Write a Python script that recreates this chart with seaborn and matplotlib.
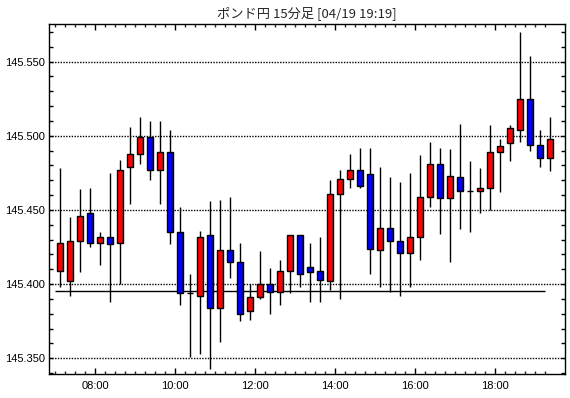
import numpy as np
import pandas as pd
import seaborn as sns
import matplotlib
matplotlib.use("Agg")
import matplotlib.pyplot as plt
from matplotlib.ticker import FixedLocator, FuncFormatter


TITLE = "ポンド円 15分足 [04/19 19:19]"

# 15-minute bars, 07:00 .. 19:15
times = pd.date_range("2024-04-19 07:00", periods=50, freq="15min")

opens = [
    145.409, 145.402, 145.429, 145.448, 145.428, 145.432, 145.428, 145.479, 145.488, 145.499,
    145.477, 145.489, 145.435, 145.394, 145.392, 145.433, 145.384, 145.423, 145.415, 145.382,
    145.391, 145.400, 145.395, 145.409, 145.433, 145.4115, 145.409, 145.402, 145.461, 145.471,
    145.477, 145.474, 145.423, 145.438, 145.429, 145.421, 145.432, 145.459, 145.481, 145.458,
    145.472, 145.463, 145.463, 145.465, 145.489, 145.495, 145.504, 145.525, 145.494, 145.485,
]
highs = [
    145.478, 145.445, 145.464, 145.465, 145.435, 145.475, 145.484, 145.506, 145.513, 145.510,
    145.510, 145.504, 145.452, 145.407, 145.436, 145.456, 145.457, 145.459, 145.428, 145.400,
    145.422, 145.411, 145.416, 145.433, 145.433, 145.428, 145.432, 145.470, 145.477, 145.488,
    145.492, 145.492, 145.479, 145.472, 145.469, 145.475, 145.487, 145.496, 145.492, 145.491,
    145.508, 145.483, 145.478, 145.507, 145.498, 145.507, 145.570, 145.554, 145.504, 145.513,
]
lows = [
    145.398, 145.392, 145.408, 145.425, 145.413, 145.388, 145.400, 145.454, 145.481, 145.470,
    145.454, 145.427, 145.386, 145.351, 145.353, 145.343, 145.361, 145.404, 145.375, 145.376,
    145.390, 145.380, 145.386, 145.394, 145.398, 145.388, 145.388, 145.396, 145.390, 145.465,
    145.465, 145.407, 145.398, 145.395, 145.392, 145.398, 145.416, 145.452, 145.434, 145.415,
    145.437, 145.435, 145.448, 145.450, 145.462, 145.483, 145.496, 145.490, 145.479, 145.476,
]
closes = [
    145.428, 145.429, 145.446, 145.428, 145.432, 145.427, 145.477, 145.488, 145.499, 145.477,
    145.489, 145.435, 145.394, 145.394, 145.432, 145.384, 145.423, 145.415, 145.380, 145.391,
    145.400, 145.395, 145.409, 145.433, 145.407, 145.4085, 145.403, 145.461, 145.471, 145.477,
    145.466, 145.424, 145.438, 145.429, 145.421, 145.432, 145.459, 145.481, 145.458, 145.473,
    145.463, 145.463, 145.465, 145.489, 145.493, 145.505, 145.525, 145.494, 145.485, 145.498,
]

REF_LEVEL = 145.3953
Y_MIN, Y_MAX = 145.3392, 145.5752
X_MIN, X_MAX = 6.85, 19.742

df = pd.DataFrame({"time": times, "open": opens, "high": highs, "low": lows, "close": closes})
df["start"] = df["time"].dt.hour + df["time"].dt.minute / 60
df["x"] = df["start"] + 7.5 / 60
df["color"] = np.where(df["close"] >= df["open"], "#FF0000", "#0000FF")

sns.set_style("white")
plt.rcParams["font.family"] = ["Liberation Sans", "DejaVu Sans"]

fig = plt.figure(figsize=(5.7, 3.98), dpi=100)
ax = fig.add_axes([0.0865, 0.0596, 0.9047, 0.8794])

# reference level
ax.hlines(REF_LEVEL, df["start"].iloc[0], df["start"].iloc[-1], color="black", lw=1, zorder=2)

# wicks + bodies
ax.vlines(df["x"], df["low"], df["high"], color="black", lw=1, zorder=3)
ax.bar(
    df["x"],
    df["close"] - df["open"],
    bottom=df["open"],
    width=0.15,
    color=df["color"],
    edgecolor="black",
    linewidth=1,
    zorder=4,
)

ax.set_xlim(X_MIN, X_MAX)
ax.set_ylim(Y_MIN, Y_MAX)

# y axis
ax.yaxis.set_major_locator(FixedLocator(np.arange(145.35, 145.551, 0.05)))
ax.yaxis.set_minor_locator(FixedLocator(np.arange(145.34, 145.571, 0.01)))
ax.yaxis.set_major_formatter(FuncFormatter(lambda v, p: f"{v:.3f}"))
ax.grid(axis="y", which="major", color="black", linestyle=(0, (1, 1)), lw=1)
ax.grid(axis="x", visible=False)

# x axis
ax.xaxis.set_major_locator(FixedLocator(np.arange(8, 19, 2)))
ax.xaxis.set_minor_locator(FixedLocator(np.arange(7, 19.26, 0.25)))
ax.xaxis.set_major_formatter(FuncFormatter(lambda v, p: f"{int(v):02d}:00"))

ax.tick_params(axis="y", which="both", direction="in", length=3, width=1,
               left=True, right=True, labelsize=8, pad=3, colors="black")
ax.tick_params(axis="x", which="major", direction="in", length=4, width=1,
               bottom=True, top=True, labelsize=8, pad=5, colors="black")
ax.tick_params(axis="x", which="minor", direction="in", length=2, width=1,
               bottom=True, top=True)

for s in ax.spines.values():
    s.set_visible(True)
    s.set_color("black")
    s.set_linewidth(1)

fig.text(0.539, 0.967, TITLE, ha="center", va="center", fontsize=9.5,
         family=["Noto Sans CJK JP", "DejaVu Sans"])

fig.savefig("out.png", dpi=100)
